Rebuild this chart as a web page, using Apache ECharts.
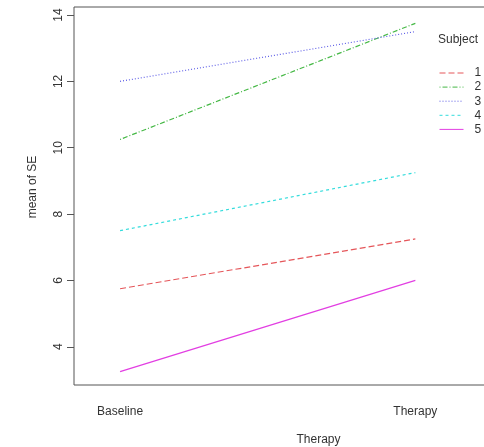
<!DOCTYPE html>
<html>
<head>
<meta charset="utf-8">
<script src="https://cdn.jsdelivr.net/npm/echarts@6/dist/echarts.min.js"></script>
<style>html,body{margin:0;padding:0;background:#fff}#c{width:484px;height:447px}</style>
</head>
<body>
<div id="c"></div>
<script>
const categories = ['Baseline', 'Therapy'];
const subjects = ['1', '2', '3', '4', '5'];
const subj1 = [5.75, 7.25];
const subj2 = [10.25, 13.75];
const subj3 = [12.0, 13.5];
const subj4 = [7.5, 9.25];
const subj5 = [3.25, 6.0];
const yTicks = [4, 6, 8, 10, 12, 14];

const values = [subj1, subj2, subj3, subj4, subj5];
const colors = ['#e5565a', '#45b845', '#5c5ce6', '#33dcdc', '#e23ee2'];
const dashes = [[6, 3], [1, 2, 5, 2], [1, 2], [3, 3], 'solid'];

const chart = echarts.init(document.getElementById('c'), null, {renderer: 'canvas'});
const font = 'Liberation Sans, Arial, sans-serif';

chart.setOption({
  animation: false,
  backgroundColor: '#fff',
  grid: {left: 74, top: 7, width: 489, height: 378, containLabel: false, outerBoundsMode: 'none'},
  xAxis: {
    type: 'value', min: 0.844, max: 2.5,
    axisLine: {show: false}, splitLine: {show: false}, axisTick: {show: false},
    axisLabel: {
      customValues: [1, 2],
      formatter: v => categories[Math.round(v) - 1] || '',
      color: '#333', fontFamily: font, fontSize: 12, margin: 21
    },
    name: 'Therapy', nameLocation: 'middle', nameGap: 49,
    nameTextStyle: {color: '#333', fontFamily: font, fontSize: 12}
  },
  yAxis: {
    type: 'value', min: 2.848, max: 14.242,
    axisLine: {show: false}, splitLine: {show: false},
    axisTick: {show: true, customValues: yTicks, length: 7, inside: false, lineStyle: {color: '#555'}},
    axisLabel: {customValues: yTicks, rotate: 90, color: '#333', fontFamily: font, fontSize: 12, margin: 9}
  },
  graphic: [
    {type: 'rect', shape: {x: 74, y: 7, width: 500, height: 378}, style: {fill: null, stroke: '#555', lineWidth: 1}, silent: true, z: 10},
    {type: 'text', x: 33, y: 187, rotation: Math.PI / 2, style: {text: 'mean of SE', fill: '#333', font: '12px ' + font, textAlign: 'center', textVerticalAlign: 'middle'}},
    {type: 'text', x: 438, y: 40, style: {text: 'Subject', fill: '#333', font: '12px ' + font, textAlign: 'left', textVerticalAlign: 'middle'}}
  ],
  legend: {
    orient: 'vertical', left: 439, top: 67, padding: 0,
    itemWidth: 24, itemHeight: 8, itemGap: 2.1,
    itemStyle: {opacity: 0},
    lineStyle: {width: 1},
    data: subjects,
    textStyle: {color: '#333', fontFamily: font, fontSize: 12, padding: [0, 0, 0, 6]}
  },
  series: subjects.map((s, i) => ({
    name: s, type: 'line', symbol: 'none', showSymbol: false,
    data: categories.map((c, j) => [j + 1, values[i][j]]),
    lineStyle: {color: colors[i], width: 1.2, type: dashes[i]},
    itemStyle: {color: colors[i]}
  }))
});
</script>
</body>
</html>
